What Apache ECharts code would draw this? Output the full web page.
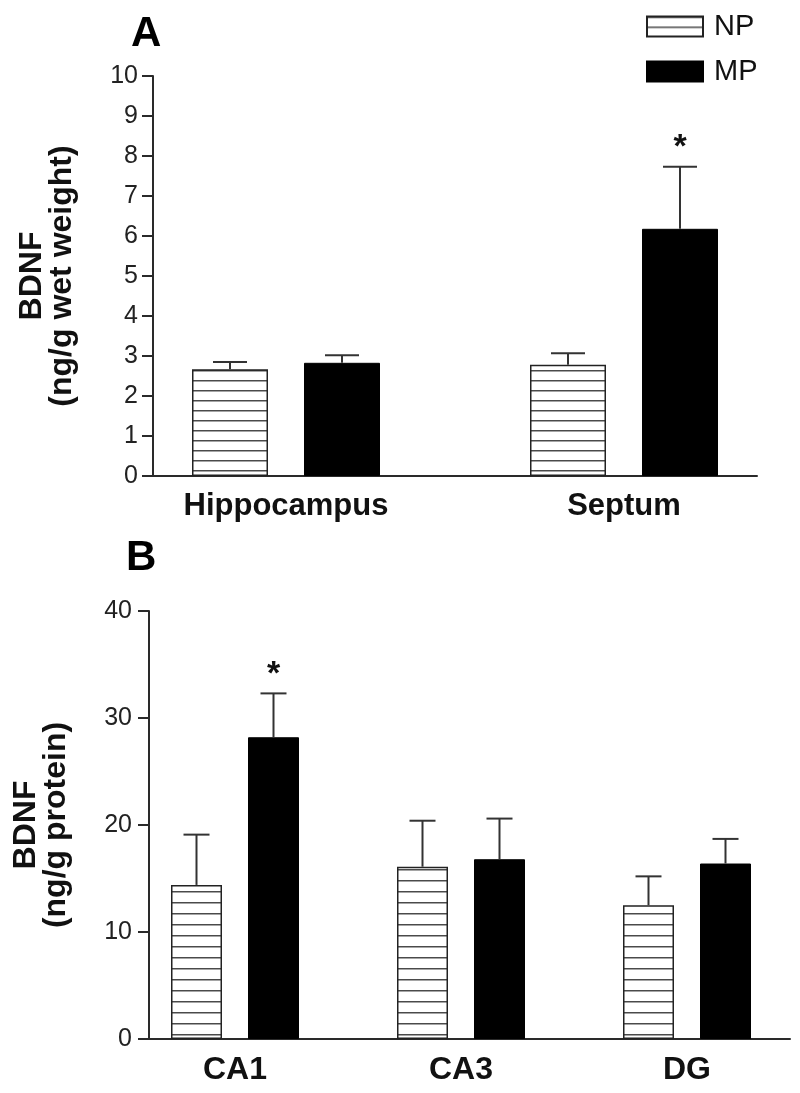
<!DOCTYPE html>
<html>
<head>
<meta charset="utf-8">
<script src="https://cdn.jsdelivr.net/npm/echarts@6/dist/echarts.min.js"></script>
<style>
html,body{margin:0;padding:0;background:#fff;}
#chart{width:800px;height:1093px;}
</style>
</head>
<body>
<div id="chart"></div>
<script>
// ---- Data ----
const seriesNames = ['NP', 'MP'];
// Panel A: BDNF (ng/g wet weight)
const catsA = ['Hippocampus', 'Septum'];
const npA = [2.67, 2.78];
const npSemA = [0.18, 0.29];
const mpA = [2.83, 6.18];
const mpSemA = [0.19, 1.55];
const mpSigA = [false, true];
// Panel B: BDNF (ng/g protein)
const catsB = ['CA1', 'CA3', 'DG'];
const npB = [14.4, 16.1, 12.5];
const npSemB = [4.7, 4.3, 2.7];
const mpB = [28.2, 16.8, 16.4];
const mpSemB = [4.1, 3.8, 2.3];
const mpSigB = [true, false, false];
// Axis ranges
const yA = {min: 0, max: 10, interval: 1};
const yB = {min: 0, max: 40, interval: 10};

// ---- Styles ----
const FONT = '"Liberation Sans", Arial, Helvetica, sans-serif';
const AXIS_COLOR = '#2a2a2a';

function makeStripe(spacing) {
  const c = document.createElement('canvas');
  c.width = 8; c.height = spacing;
  const ctx = c.getContext('2d');
  ctx.fillStyle = '#ffffff';
  ctx.fillRect(0, 0, 8, spacing);
  ctx.fillStyle = '#4a4a4a';
  ctx.fillRect(0, 0, 8, 1);
  ctx.fillStyle = '#a5a5a5';
  ctx.fillRect(0, 1, 8, 1);
  return {image: c, repeat: 'repeat'};
}

const layoutA = {barWidth: 76, gap: 36, cap: 34};
const layoutB = {barWidth: 51, gap: 26, cap: 26};

function errData(vals, sems, sig) {
  return vals.map((v, i) => [i, v, v + sems[i], sig ? (sig[i] ? 1 : 0) : 0]);
}

function errSeries(name, data, sideSign, layout, xi, yi) {
  const off = sideSign * (layout.barWidth + layout.gap) / 2;
  return {
    type: 'custom',
    name: name,
    xAxisIndex: xi, yAxisIndex: yi,
    silent: true,
    z: 5,
    legendHoverLink: false,
    data: data,
    renderItem: function (params, api) {
      const base = api.coord([api.value(0), api.value(1)]);
      const top = api.coord([api.value(0), api.value(2)]);
      const x = base[0] + off;
      const children = [
        {type: 'line', shape: {x1: x, y1: base[1], x2: x, y2: top[1]},
         style: {stroke: '#333', lineWidth: 2}},
        {type: 'line', shape: {x1: x - layout.cap / 2, y1: top[1], x2: x + layout.cap / 2, y2: top[1]},
         style: {stroke: '#333', lineWidth: 2}}
      ];
      if (api.value(3) === 1) {
        children.push({type: 'text', x: x, y: top[1] - 19,
          style: {text: '*', fontSize: 34, fontWeight: 'bold', fontFamily: FONT,
                  fill: '#111', align: 'center', verticalAlign: 'middle'}});
      }
      return {type: 'group', children: children};
    }
  };
}

const npStyleA = {color: makeStripe(10), borderColor: '#222', borderWidth: 1.5};
const npStyleB = {color: makeStripe(11), borderColor: '#222', borderWidth: 1.5};
const mpStyle = {color: '#000', borderColor: '#000', borderWidth: 1};

function valueYAxis(gridIndex, range, name, nameGap, show, labelMargin) {
  return {
    type: 'value', gridIndex: gridIndex,
    min: range.min, max: range.max, interval: range.interval,
    show: show,
    name: show ? name : '',
    nameLocation: 'middle', nameRotate: 90, nameGap: nameGap,
    nameTextStyle: {fontFamily: FONT, fontSize: 32, fontWeight: 'bold', color: '#111', lineHeight: 30},
    axisLine: {show: true, lineStyle: {color: AXIS_COLOR, width: 2}},
    axisTick: {show: true, length: 11, lineStyle: {color: AXIS_COLOR, width: 2}},
    axisLabel: {show: true, fontFamily: FONT, fontSize: 25, color: '#222', margin: labelMargin},
    splitLine: {show: false}
  };
}

const option = {
  backgroundColor: '#fff',
  animation: false,
  title: [
    {text: 'A', left: 126, top: 8, textStyle: {fontFamily: FONT, fontSize: 42, fontWeight: 'bold', color: '#000'}},
    {text: 'B', left: 121, top: 532, textStyle: {fontFamily: FONT, fontSize: 42, fontWeight: 'bold', color: '#000'}}
  ],
  legend: {
    orient: 'vertical', left: 641, top: 7,
    data: seriesNames,
    icon: 'rect', itemWidth: 56, itemHeight: 20, itemGap: 16,
    textStyle: {fontFamily: FONT, fontSize: 29, color: '#111', lineHeight: 20, padding: [2, 0, 0, 6]},
    selectedMode: false
  },
  grid: [
    {left: 117, width: 676, top: 76, height: 400},   // A bars
    {left: 153, width: 604, top: 76, height: 400},   // A axes
    {left: 122, width: 690, top: 611, height: 428},  // B bars
    {left: 149, width: 641, top: 611, height: 428}   // B axes
  ],
  xAxis: [
    {type: 'category', gridIndex: 0, data: catsA,
     axisLine: {show: false}, axisTick: {show: false},
     axisLabel: {fontFamily: FONT, fontSize: 31, fontWeight: 'bold', color: '#111', margin: 15}},
    {type: 'value', gridIndex: 1, min: 0, max: 1,
     axisLine: {show: true, lineStyle: {color: AXIS_COLOR, width: 2}},
     axisTick: {show: false}, axisLabel: {show: false}, splitLine: {show: false}},
    {type: 'category', gridIndex: 2, data: catsB,
     axisLine: {show: false}, axisTick: {show: false},
     axisLabel: {fontFamily: FONT, fontSize: 32, fontWeight: 'bold', color: '#111', margin: 15}},
    {type: 'value', gridIndex: 3, min: 0, max: 1,
     axisLine: {show: true, lineStyle: {color: AXIS_COLOR, width: 2}},
     axisTick: {show: false}, axisLabel: {show: false}, splitLine: {show: false}}
  ],
  yAxis: [
    valueYAxis(0, yA, '', 0, false, 15),
    valueYAxis(1, yA, 'BDNF\n(ng/g wet weight)', 76, true, 15),
    valueYAxis(2, yB, '', 0, false, 17),
    valueYAxis(3, yB, 'BDNF\n(ng/g protein)', 78, true, 17)
  ],
  series: [
    {type: 'bar', name: 'NP', xAxisIndex: 0, yAxisIndex: 0, data: npA,
     barWidth: layoutA.barWidth, barGap: (layoutA.gap / layoutA.barWidth * 100) + '%', itemStyle: npStyleA},
    {type: 'bar', name: 'MP', xAxisIndex: 0, yAxisIndex: 0, data: mpA,
     barWidth: layoutA.barWidth, barGap: (layoutA.gap / layoutA.barWidth * 100) + '%', itemStyle: mpStyle},
    {type: 'bar', name: 'NP', xAxisIndex: 2, yAxisIndex: 2, data: npB,
     barWidth: layoutB.barWidth, barGap: (layoutB.gap / layoutB.barWidth * 100) + '%', itemStyle: npStyleB},
    {type: 'bar', name: 'MP', xAxisIndex: 2, yAxisIndex: 2, data: mpB,
     barWidth: layoutB.barWidth, barGap: (layoutB.gap / layoutB.barWidth * 100) + '%', itemStyle: mpStyle},
    errSeries('errNPA', errData(npA, npSemA, null), -1, layoutA, 0, 0),
    errSeries('errMPA', errData(mpA, mpSemA, mpSigA), 1, layoutA, 0, 0),
    errSeries('errNPB', errData(npB, npSemB, null), -1, layoutB, 2, 2),
    errSeries('errMPB', errData(mpB, mpSemB, mpSigB), 1, layoutB, 2, 2)
  ]
};

const chart = echarts.init(document.getElementById('chart'), null, {renderer: 'canvas'});
chart.setOption(option);
</script>
</body>
</html>
